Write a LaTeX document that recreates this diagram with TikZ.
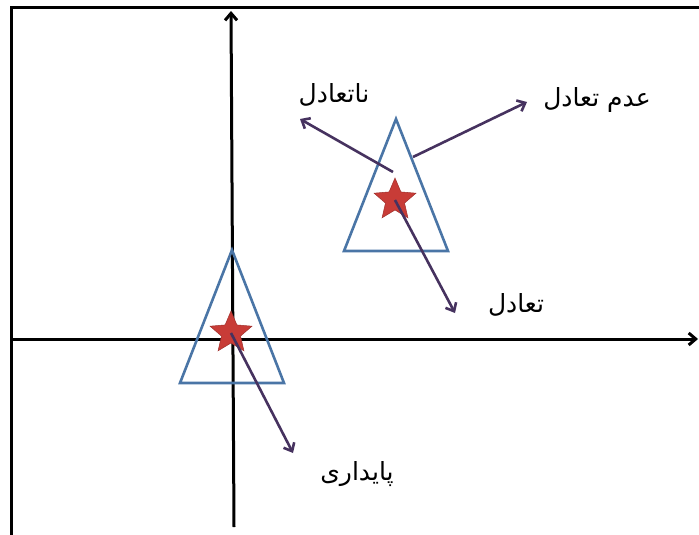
\documentclass[tikz,border=0pt]{standalone}
\usepackage{fontspec}
\newfontfamily\arabicfont[Script=Arabic]{DejaVu Sans}
\TeXXeTstate=1
\usetikzlibrary{arrows.meta, shapes.geometric}
\definecolor{triblue}{RGB}{74,117,166}
\definecolor{starred}{RGB}{200,60,55}
\definecolor{pointer}{RGB}{70,50,95}
\tikzset{
    % axes and frame
    axis/.style={line width=3pt, black, -{Straight Barb[length=7pt, width=12pt]}},
    frame/.style={line width=3pt, black},
    % triangles and stars
    tri/.style={draw=triblue, line width=2.6pt, line join=miter},
    starmark/.style={star, star points=5, star point ratio=2.2, minimum size=44pt,
                inner sep=0pt, fill=starred, draw=starred!80!black, line width=0.5pt},
    % pointers to the labels
    parrow/.style={-{Straight Barb[length=7pt, width=12pt]}, line width=2.6pt, pointer},
    plabel/.style={font=\arabicfont\fontsize{25}{28}\selectfont, inner sep=1pt},
}
\begin{document}
\begin{tikzpicture}[x=1pt, y=-1pt]
\useasboundingbox (0,0) rectangle (699,535);
\draw[frame] (11,535) -- (11,8) -- (699,8);

% axes
\coordinate (xs) at (13,339);
\coordinate (xe) at (698,339);
\coordinate (ys) at (234,527);
\coordinate (ye) at (231,11);
\draw[axis] (xs) -- (xe);
\draw[axis] (ys) -- (ye);

% lower triangle
\coordinate (la) at (232,250);
\coordinate (lb) at (180,383);
\coordinate (lc) at (284,383);
\draw[tri] (la) -- (lb) -- (lc) -- cycle;
% upper triangle
\coordinate (ua) at (396,119);
\coordinate (ub) at (344,251);
\coordinate (uc) at (448,251);
\draw[tri] (ua) -- (ub) -- (uc) -- cycle;

\node[starmark] (stab) at (231,333) {};
\node[starmark] (eq)   at (395,200) {};

\node[plabel] (lstab)  at (357,474) {\beginR پایداری\endR};
\node[plabel] (leq)    at (516,305) {\beginR تعادل\endR};
\node[plabel] (lnoneq) at (334,95)  {\beginR ناتعادل\endR};
\node[plabel] (ldis)   at (597,100) {\beginR عدم تعادل\endR};

\coordinate (stabtip)  at (293,453);
\coordinate (eqtip)    at (455,313);
\coordinate (nonfrom)  at (393,172);
\coordinate (nontip)   at (300,119);
\coordinate (disfrom)  at (413,157);
\coordinate (distip)   at (527,102);

\draw[parrow] (stab.center) -- (stabtip);
\draw[parrow] (eq.center) -- (eqtip);
\draw[parrow] (nonfrom) -- (nontip);
\draw[parrow] (disfrom) -- (distip);
\end{tikzpicture}
\end{document}
